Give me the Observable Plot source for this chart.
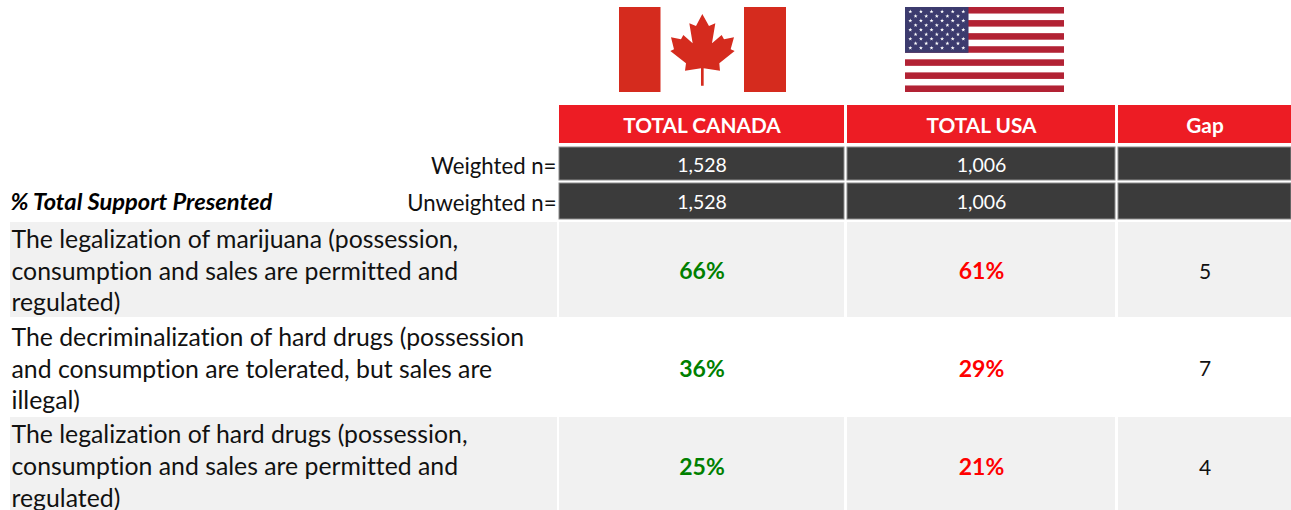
<!DOCTYPE html>
<html><head><meta charset="utf-8">
<script src="https://cdn.jsdelivr.net/npm/d3@7"></script>
<script src="https://cdn.jsdelivr.net/npm/@observablehq/plot@0.6"></script>
<style>html,body{margin:0;padding:0;background:#fff;overflow:hidden}svg{display:block}svg text{font-variant-ligatures:none}</style>
</head><body><div id="chart"></div>
<script>
// Data
const columnHeads = ["TOTAL CANADA", "TOTAL USA", "Gap"];
const weightedN = ["1,528", "1,006", ""];
const unweightedN = ["1,528", "1,006", ""];
const statements = [
  "The legalization of marijuana (possession,\nconsumption and sales are permitted and\nregulated)",
  "The decriminalization of hard drugs (possession\nand consumption are tolerated, but sales are\nillegal)",
  "The legalization of hard drugs (possession,\nconsumption and sales are permitted and\nregulated)"
];
const canadaSupport = [66, 36, 25];
const usaSupport = [61, 29, 21];
const gapValues = [5, 7, 4];

// Table layout (grid units, kept apart from the values)
const colEdges = [[559, 844], [847, 1115], [1118, 1291]];
const colCentres = colEdges.map(([a, b]) => (a + b) / 2);
const labelCell = [10, 557];
const rowBands = {head: [105, 143], weighted: [147, 180], unweighted: [183, 219]};
const statementBands = [[222, 317], [320, 415], [417, 510]];
const labelMids = [269, 367, 464.5];
const valueMids = [271.5, 369, 467.5];
const font = "Lato, Carlito, Calibri, sans-serif";

// Flags as small SVG images
const uri = s => "data:image/svg+xml;utf8," + encodeURIComponent(s);
const leaf = "M307 42 L327 78 L346 70 L336 130 L365 105 L372 118 L402 112 L392 148 L404 153 L358 190 L360 212 L311 205 L311 257 L303 257 L303 205 L255 212 L258 190 L211 153 L222 148 L213 112 L243 118 L250 105 L278 130 L268 70 L288 78 Z";
const canadaFlag = uri(`<svg xmlns="http://www.w3.org/2000/svg" viewBox="0 0 167 85" width="167" height="85" preserveAspectRatio="none"><rect width="167" height="85" fill="#fff"/><rect width="41.5" height="85" fill="#d52b1e"/><rect x="125" width="42" height="85" fill="#d52b1e"/><g transform="scale(0.3333) translate(-57,-21)"><path d="${leaf}" fill="#d52b1e"/></g></svg>`);
let stripes = "", stars = "";
for (let i = 0; i < 13; i += 2) stripes += `<rect y="${i * 85 / 13}" width="159" height="${85 / 13}" fill="#b22234"/>`;
const star = (cx, cy) => {
  let p = [];
  for (let k = 0; k < 10; k++) {
    const r = k % 2 ? 0.85 : 2.1, a = -Math.PI / 2 + k * Math.PI / 5;
    p.push((cx + r * Math.cos(a)).toFixed(2) + "," + (cy + r * Math.sin(a)).toFixed(2));
  }
  return `<polygon points="${p.join(" ")}" fill="#fff"/>`;
};
for (let r = 0; r < 9; r++) {
  const n = r % 2 ? 5 : 6;
  for (let c = 0; c < n; c++) stars += star((r % 2 ? 10.6 : 5.3) + c * 10.6, 4.6 + r * 4.55);
}
const usaFlag = uri(`<svg xmlns="http://www.w3.org/2000/svg" viewBox="0 0 159 85" width="159" height="85" preserveAspectRatio="none"><rect width="159" height="85" fill="#fff"/>${stripes}<rect width="63.5" height="45.8" fill="#3c3b6e"/>${stars}</svg>`);
const flags = [
  {src: canadaFlag, x: 702, y: 49, w: 167, h: 85},
  {src: usaFlag, x: 984, y: 49, w: 159, h: 85}
];

// Tables for the marks
const heads = columnHeads.map((t, i) => ({t, x1: colEdges[i][0], x2: colEdges[i][1], c: colCentres[i]}));
const nRows = (vals, band, m) => vals.map((t, i) => ({t, x1: colEdges[i][0], x2: colEdges[i][1], c: colCentres[i], y1: band[0], y2: band[1], m}));
const nCells = [...nRows(weightedN, rowBands.weighted, 165), ...nRows(unweightedN, rowBands.unweighted, 202)];
const shaded = [0, 2];
const shadedCells = shaded.flatMap(r => [labelCell, ...colEdges].map(([x1, x2]) => ({x1, x2, y1: statementBands[r][0], y2: statementBands[r][1]})));
const rowsTable = statements.map((s, i) => ({s, ca: canadaSupport[i], us: usaSupport[i], gap: gapValues[i], lm: labelMids[i], vm: valueMids[i]}));

const plot = Plot.plot({
  width: 1291, height: 510,
  margin: 0,
  style: {background: "#fff", fontFamily: font},
  x: {type: "linear", domain: [0, 1291], range: [0, 1291], axis: null},
  y: {type: "linear", domain: [0, 510], range: [0, 510], axis: null},
  marks: [
    Plot.image(flags, {x: "x", y: "y", src: "src", width: "w", height: "h", preserveAspectRatio: "none"}),
    Plot.rect(heads, {x1: "x1", x2: "x2", y1: () => rowBands.head[0], y2: () => rowBands.head[1], fill: "#ed1c24"}),
    Plot.text(heads, {x: "c", y: () => 126, text: "t", fill: "#fff", fontWeight: "bold", fontSize: 20.8}),
    Plot.rect(nCells, {x1: "x1", x2: "x2", y1: "y1", y2: "y2", fill: "#3b3b3b", stroke: "#8c8c8c", strokeWidth: 1}),
    Plot.text(nCells, {x: "c", y: "m", text: "t", fill: "#fff", fontSize: 19.5}),
    Plot.text(["Weighted n=", "Unweighted n="], {x: () => 556, y: (d, i) => [166, 203][i], text: d => d, textAnchor: "end", fill: "#111", fontSize: 22.2}),
    Plot.text(["% Total Support Presented"], {x: () => 10, y: () => 202, text: d => d, textAnchor: "start", fill: "#000", fontWeight: "bold", fontStyle: "italic", fontSize: 23.7}),
    Plot.rect(shadedCells, {x1: "x1", x2: "x2", y1: "y1", y2: "y2", fill: "#f1f1f1"}),
    Plot.text(rowsTable, {x: () => 11, y: "lm", text: "s", textAnchor: "start", lineHeight: 1.28, fill: "#111", fontSize: 24.8}),
    Plot.text(rowsTable, {x: () => colCentres[0], y: "vm", text: d => d.ca + "%", fill: "#008000", fontWeight: "bold", fontSize: 23}),
    Plot.text(rowsTable, {x: () => colCentres[1], y: "vm", text: d => d.us + "%", fill: "#ff0000", fontWeight: "bold", fontSize: 23}),
    Plot.text(rowsTable, {x: () => colCentres[2], y: "vm", text: d => String(d.gap), fill: "#111", fontSize: 21})
  ]
});
document.getElementById("chart").append(plot);
</script></body></html>
